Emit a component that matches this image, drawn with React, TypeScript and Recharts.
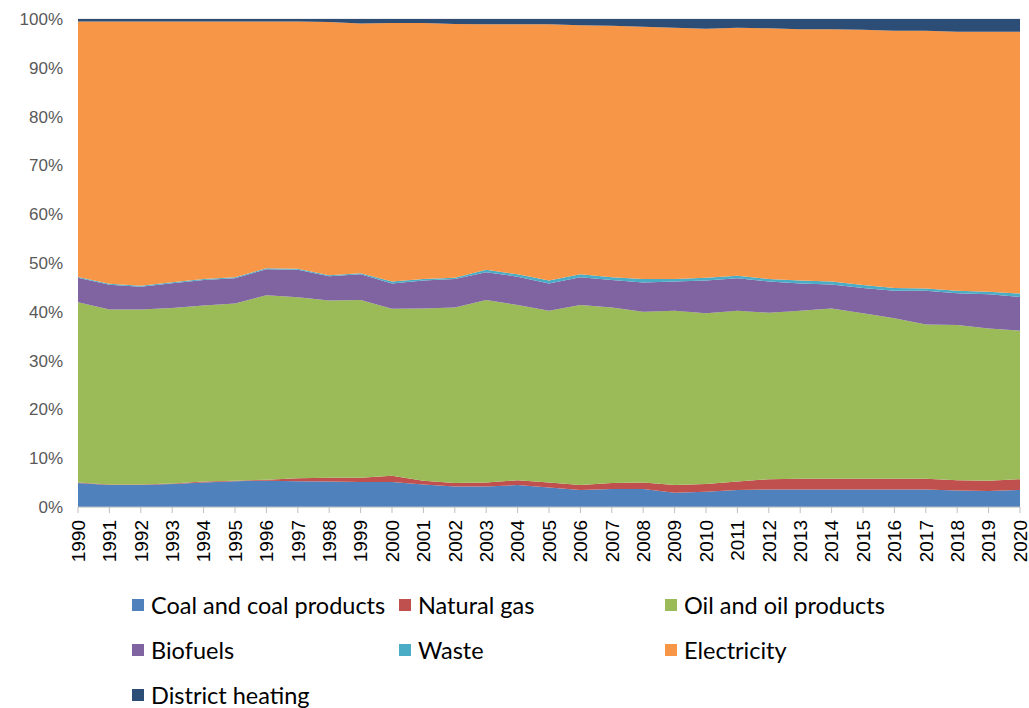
import { Area, AreaChart, CartesianGrid, XAxis, YAxis } from 'recharts'

// Final energy consumption shares by carrier, 1990–2020 (percent).
const years = [
  1990, 1991, 1992, 1993, 1994, 1995, 1996, 1997, 1998, 1999, 2000, 2001, 2002,
  2003, 2004, 2005, 2006, 2007, 2008, 2009, 2010, 2011, 2012, 2013, 2014, 2015,
  2016, 2017, 2018, 2019, 2020,
]
const coal = [
  4.9, 4.5, 4.5, 4.7, 5.0, 5.3, 5.4, 5.3, 5.2, 5.1, 5.1, 4.6, 4.2, 4.2, 4.5, 4.0,
  3.5, 3.7, 3.7, 2.9, 3.1, 3.5, 3.6, 3.6, 3.6, 3.6, 3.6, 3.6, 3.4, 3.3, 3.5,
]
const gas = [
  0.1, 0.1, 0.1, 0.1, 0.2, 0.1, 0.2, 0.6, 0.8, 0.9, 1.3, 0.8, 0.7, 0.8, 1.0, 1.0,
  1.0, 1.2, 1.3, 1.6, 1.6, 1.7, 2.1, 2.2, 2.2, 2.2, 2.2, 2.2, 2.1, 2.1, 2.2,
]
const oil = [
  37.0, 35.9, 35.9, 36.0, 36.1, 36.3, 37.8, 37.1, 36.3, 36.4, 34.2, 35.3, 36.0,
  37.4, 35.9, 35.2, 36.9, 36.0, 35.0, 35.7, 35.0, 35.0, 34.1, 34.4, 34.9, 33.9,
  32.9, 31.6, 31.8, 31.2, 30.4,
]
const biofuels = [
  5.0, 5.1, 4.7, 5.1, 5.2, 5.2, 5.3, 5.6, 5.0, 5.3, 5.2, 5.7, 5.8, 5.7, 5.8, 5.6,
  5.7, 5.6, 6.0, 6.0, 6.7, 6.7, 6.4, 5.6, 4.9, 5.2, 5.6, 6.9, 6.5, 7.0, 6.9,
]
const waste = [
  0.2, 0.2, 0.2, 0.2, 0.2, 0.2, 0.2, 0.2, 0.2, 0.2, 0.4, 0.3, 0.3, 0.5, 0.5, 0.6,
  0.6, 0.6, 0.7, 0.5, 0.6, 0.5, 0.5, 0.6, 0.6, 0.6, 0.6, 0.5, 0.5, 0.5, 0.7,
]
const electricity = [
  52.4, 53.8, 54.2, 53.5, 52.8, 52.4, 50.6, 50.7, 51.9, 51.2, 53.0, 52.5, 52.0,
  50.3, 51.2, 52.5, 51.0, 51.5, 51.7, 51.5, 51.0, 50.8, 51.4, 51.5, 51.7, 52.3,
  52.7, 52.8, 53.1, 53.3, 53.6,
]
const districtHeating = [
  0.5, 0.5, 0.5, 0.5, 0.5, 0.5, 0.5, 0.5, 0.6, 0.9, 0.8, 0.8, 1.0, 1.1, 1.1, 1.1,
  1.3, 1.4, 1.6, 1.8, 2.0, 1.8, 1.9, 2.1, 2.1, 2.2, 2.4, 2.4, 2.6, 2.6, 2.6,
]
const yTicks = [0, 0.1, 0.2, 0.3, 0.4, 0.5, 0.6, 0.7, 0.8, 0.9, 1]

const series = [
  { key: 'coal', name: 'Coal and coal products', color: '#4F81BD', values: coal },
  { key: 'gas', name: 'Natural gas', color: '#C0504D', values: gas },
  { key: 'oil', name: 'Oil and oil products', color: '#9BBB59', values: oil },
  { key: 'bio', name: 'Biofuels', color: '#8064A2', values: biofuels },
  { key: 'waste', name: 'Waste', color: '#4BACC6', values: waste },
  { key: 'elec', name: 'Electricity', color: '#F79646', values: electricity },
  { key: 'dh', name: 'District heating', color: '#2C4D75', values: districtHeating },
]

const data = years.map((year, i) => {
  const row: Record<string, number> = { year }
  series.forEach((s) => (row[s.key] = s.values[i]))
  return row
})

const axisFont = '"Liberation Sans", Arial, sans-serif'

// Year labels read bottom-to-top, centred on each tick.
function YearTick({ x, y, payload }: any) {
  return (
    <g transform={`translate(${x},${y + 5})`}>
      <text
        transform="rotate(-90)"
        textAnchor="end"
        dy="0.36em"
        fontSize={19}
        fontFamily={axisFont}
        fill="#000"
      >
        {payload.value}
      </text>
    </g>
  )
}

export default function App() {
  return (
    <div style={{ position: 'relative', width: 1029, height: 708, overflow: 'hidden' }}>
      <style>{'body{margin:0;overflow:hidden}'}</style>
      <AreaChart
        width={1029}
        height={573}
        data={data}
        stackOffset="expand"
        margin={{ top: 19, right: 9, bottom: 6, left: 18 }}
      >
        <CartesianGrid vertical={false} stroke="#D9D9D9" />
        <XAxis
          dataKey="year"
          height={60}
          interval={0}
          tick={<YearTick />}
          tickSize={6}
          stroke="#BFBFBF"
          tickLine={{ stroke: '#BFBFBF' }}
        />
        <YAxis
          width={60}
          domain={[0, 1]}
          ticks={yTicks}
          interval={0}
          axisLine={false}
          tickLine={false}
          tickSize={0}
          tickMargin={15}
          tickFormatter={(v: number) => `${Math.round(v * 100)}%`}
          tick={{ fontSize: 17, fontFamily: axisFont, fill: '#595959' }}
        />
        {series.map((s) => (
          <Area
            key={s.key}
            type="linear"
            dataKey={s.key}
            name={s.name}
            stackId="1"
            stroke="none"
            fill={s.color}
            fillOpacity={1}
            isAnimationActive={false}
          />
        ))}
      </AreaChart>

      <div
        style={{
          position: 'absolute',
          left: 132,
          top: 582,
          display: 'grid',
          gridTemplateColumns: '267px 266px 266px',
          gridAutoRows: '45px',
          fontFamily: 'Lato, "Open Sans", sans-serif',
          fontSize: 23.5,
          color: '#000',
        }}
      >
        {series.map((s) => (
          <LegendItem key={s.key} color={s.color} label={s.name} />
        ))}
      </div>
    </div>
  )
}

function LegendItem({ color, label }: { color: string; label: string }) {
  return (
    <span style={{ display: 'flex', alignItems: 'center', whiteSpace: 'nowrap' }}>
      <span
        style={{
          width: 12,
          height: 12,
          marginRight: 7,
          backgroundColor: color,
          display: 'inline-block',
        }}
      />
      {label}
    </span>
  )
}
